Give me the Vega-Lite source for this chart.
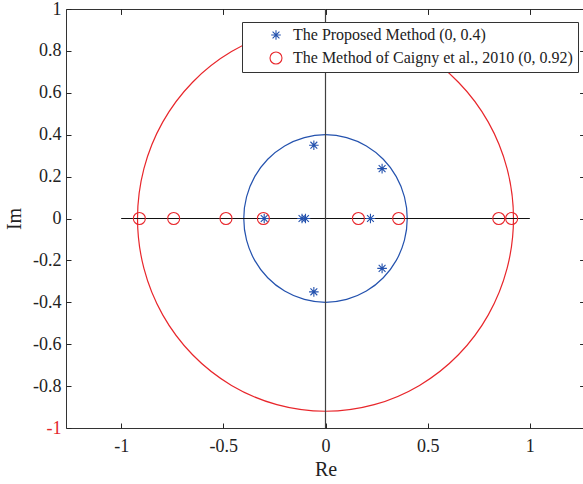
{
  "$schema": "https://vega.github.io/schema/vega-lite/v6.json",
  "autosize": "none",
  "width": 519,
  "height": 419,
  "padding": {"left": 66, "top": 9, "right": 0, "bottom": 56},
  "background": "white",
  "config": {
    "view": {"stroke": "#333333", "strokeWidth": 1},
    "font": "Liberation Serif",
    "axis": {
      "labelFont": "Liberation Serif",
      "titleFont": "Liberation Serif",
      "labelColor": "#222222",
      "titleColor": "#222222",
      "labelFontSize": 18,
      "titleFontSize": 20,
      "titleFontWeight": "normal",
      "tickColor": "#262626",
      "tickWidth": 1,
      "tickSize": -5,
      "domain": false,
      "grid": false
    }
  },
  "datasets": {
    "red": [
      {"i": 0, "x": 0.92, "y": 0}, {"i": 1, "x": 0.88865, "y": 0.23811}, {"i": 2, "x": 0.79675, "y": 0.46},
      {"i": 3, "x": 0.65054, "y": 0.65054}, {"i": 4, "x": 0.46, "y": 0.79675}, {"i": 5, "x": 0.23811, "y": 0.88865},
      {"i": 6, "x": 0, "y": 0.92}, {"i": 7, "x": -0.23811, "y": 0.88865}, {"i": 8, "x": -0.46, "y": 0.79675},
      {"i": 9, "x": -0.65054, "y": 0.65054}, {"i": 10, "x": -0.79675, "y": 0.46}, {"i": 11, "x": -0.88865, "y": 0.23811},
      {"i": 12, "x": -0.92, "y": 0}, {"i": 13, "x": -0.88865, "y": -0.23811}, {"i": 14, "x": -0.79675, "y": -0.46},
      {"i": 15, "x": -0.65054, "y": -0.65054}, {"i": 16, "x": -0.46, "y": -0.79675}, {"i": 17, "x": -0.23811, "y": -0.88865},
      {"i": 18, "x": 0, "y": -0.92}, {"i": 19, "x": 0.23811, "y": -0.88865}, {"i": 20, "x": 0.46, "y": -0.79675},
      {"i": 21, "x": 0.65054, "y": -0.65054}, {"i": 22, "x": 0.79675, "y": -0.46}, {"i": 23, "x": 0.88865, "y": -0.23811}
    ],
    "blue": [
      {"i": 0, "x": 0.4, "y": 0}, {"i": 1, "x": 0.38637, "y": 0.10353}, {"i": 2, "x": 0.34641, "y": 0.2},
      {"i": 3, "x": 0.28284, "y": 0.28284}, {"i": 4, "x": 0.2, "y": 0.34641}, {"i": 5, "x": 0.10353, "y": 0.38637},
      {"i": 6, "x": 0, "y": 0.4}, {"i": 7, "x": -0.10353, "y": 0.38637}, {"i": 8, "x": -0.2, "y": 0.34641},
      {"i": 9, "x": -0.28284, "y": 0.28284}, {"i": 10, "x": -0.34641, "y": 0.2}, {"i": 11, "x": -0.38637, "y": 0.10353},
      {"i": 12, "x": -0.4, "y": 0}, {"i": 13, "x": -0.38637, "y": -0.10353}, {"i": 14, "x": -0.34641, "y": -0.2},
      {"i": 15, "x": -0.28284, "y": -0.28284}, {"i": 16, "x": -0.2, "y": -0.34641}, {"i": 17, "x": -0.10353, "y": -0.38637},
      {"i": 18, "x": 0, "y": -0.4}, {"i": 19, "x": 0.10353, "y": -0.38637}, {"i": 20, "x": 0.2, "y": -0.34641},
      {"i": 21, "x": 0.28284, "y": -0.28284}, {"i": 22, "x": 0.34641, "y": -0.2}, {"i": 23, "x": 0.38637, "y": -0.10353}
    ],
    "axes": [
      {"x": -1, "x2": 1, "y": 0, "y2": 0, "k": "h"},
      {"x": 0, "x2": 0, "y": -1, "y2": 1, "k": "v"}
    ],
    "pts": [
      {"s": "The Proposed Method (0, 0.4)", "x": -0.30, "y": 0},
      {"s": "The Proposed Method (0, 0.4)", "x": -0.115, "y": 0},
      {"s": "The Proposed Method (0, 0.4)", "x": -0.098, "y": 0},
      {"s": "The Proposed Method (0, 0.4)", "x": 0.22, "y": 0},
      {"s": "The Proposed Method (0, 0.4)", "x": -0.057, "y": 0.35},
      {"s": "The Proposed Method (0, 0.4)", "x": -0.057, "y": -0.35},
      {"s": "The Proposed Method (0, 0.4)", "x": 0.277, "y": 0.238},
      {"s": "The Proposed Method (0, 0.4)", "x": 0.277, "y": -0.238},
      {"s": "The Method of Caigny et al., 2010 (0, 0.92)", "x": -0.911, "y": 0},
      {"s": "The Method of Caigny et al., 2010 (0, 0.92)", "x": -0.743, "y": 0},
      {"s": "The Method of Caigny et al., 2010 (0, 0.92)", "x": -0.487, "y": 0},
      {"s": "The Method of Caigny et al., 2010 (0, 0.92)", "x": -0.304, "y": 0},
      {"s": "The Method of Caigny et al., 2010 (0, 0.92)", "x": 0.161, "y": 0},
      {"s": "The Method of Caigny et al., 2010 (0, 0.92)", "x": 0.358, "y": 0},
      {"s": "The Method of Caigny et al., 2010 (0, 0.92)", "x": 0.848, "y": 0},
      {"s": "The Method of Caigny et al., 2010 (0, 0.92)", "x": 0.911, "y": 0}
    ]
  },
  "encoding": {
    "x": {
      "field": "x", "type": "quantitative",
      "scale": {"domain": [-1.27, 1.27], "nice": false, "zero": false},
      "axis": {"values": [-1, -0.5, 0, 0.5, 1], "labelExpr": "'' + datum.value", "title": "Re", "labelPadding": 14, "titlePadding": 4}
    },
    "y": {
      "field": "y", "type": "quantitative",
      "scale": {"domain": [-1, 1], "nice": false, "zero": false},
      "axis": {
        "values": [-1, -0.8, -0.6, -0.4, -0.2, 0, 0.2, 0.4, 0.6, 0.8, 1],
        "labelExpr": "'' + datum.value",
        "labelColor": {"condition": {"test": "datum.value == -1", "value": "#e3262b"}, "value": "#222222"},
        "title": "Im", "labelPadding": 10, "titlePadding": 8
      }
    }
  },
  "layer": [
    {
      "data": {"name": "red"},
      "mark": {"type": "line", "color": "#e8262b", "strokeWidth": 1.2, "interpolate": "cardinal-closed", "clip": true},
      "encoding": {"order": {"field": "i", "type": "quantitative"}}
    },
    {
      "data": {"name": "blue"},
      "mark": {"type": "line", "color": "#2452ae", "strokeWidth": 1.2, "interpolate": "cardinal-closed"},
      "encoding": {"order": {"field": "i", "type": "quantitative"}}
    },
    {
      "data": {"name": "axes"},
      "mark": {"type": "rule", "strokeWidth": 1.2},
      "encoding": {
        "x2": {"field": "x2"},
        "y2": {"field": "y2"},
        "color": {"field": "k", "type": "nominal", "scale": {"domain": ["h", "v"], "range": ["#111111", "#404040"]}, "legend": null}
      }
    },
    {
      "data": {"name": "pts"},
      "mark": {"type": "point", "filled": false, "strokeWidth": 1.1, "size": 144, "opacity": 1},
      "encoding": {
        "stroke": {
          "field": "s", "type": "nominal",
          "scale": {"domain": ["The Proposed Method (0, 0.4)", "The Method of Caigny et al., 2010 (0, 0.92)"], "range": ["#2452ae", "#e8262b"]},
          "legend": {
            "title": null, "orient": "none", "legendX": 176, "legendY": 13,
            "fillColor": "white", "strokeColor": "#333333", "padding": 5,
            "labelFont": "Liberation Serif", "labelFontSize": 16, "labelColor": "#222222",
            "symbolOffset": 21, "labelOffset": 9, "rowPadding": 6, "symbolStrokeWidth": 1.1, "symbolSize": 144, "labelLimit": 400
          }
        },
        "shape": {
          "field": "s", "type": "nominal",
          "scale": {"domain": ["The Proposed Method (0, 0.4)", "The Method of Caigny et al., 2010 (0, 0.92)"], "range": ["M-0.8,0L0.8,0M0,-0.8L0,0.8M-0.57,-0.57L0.57,0.57M-0.57,0.57L0.57,-0.57", "circle"]},
          "legend": {
            "title": null, "orient": "none", "legendX": 176, "legendY": 13,
            "fillColor": "white", "strokeColor": "#333333", "padding": 5,
            "labelFont": "Liberation Serif", "labelFontSize": 16, "labelColor": "#222222",
            "symbolOffset": 21, "labelOffset": 9, "rowPadding": 6, "symbolStrokeWidth": 1.1, "symbolSize": 144, "labelLimit": 400
          }
        }
      }
    },
    {
      "data": {"values": [{}]},
      "mark": {"type": "rule", "opacity": 0},
      "encoding": {
        "x": {"datum": 0, "type": "quantitative", "axis": {"orient": "top", "values": [-1, -0.5, 0, 0.5, 1], "labels": false, "title": null}},
        "y": {"datum": 0, "type": "quantitative", "axis": {"orient": "right", "values": [-1, -0.8, -0.6, -0.4, -0.2, 0, 0.2, 0.4, 0.6, 0.8, 1], "labels": false, "title": null}}
      }
    }
  ],
  "resolve": {"axis": {"x": "independent", "y": "independent"}}
}
